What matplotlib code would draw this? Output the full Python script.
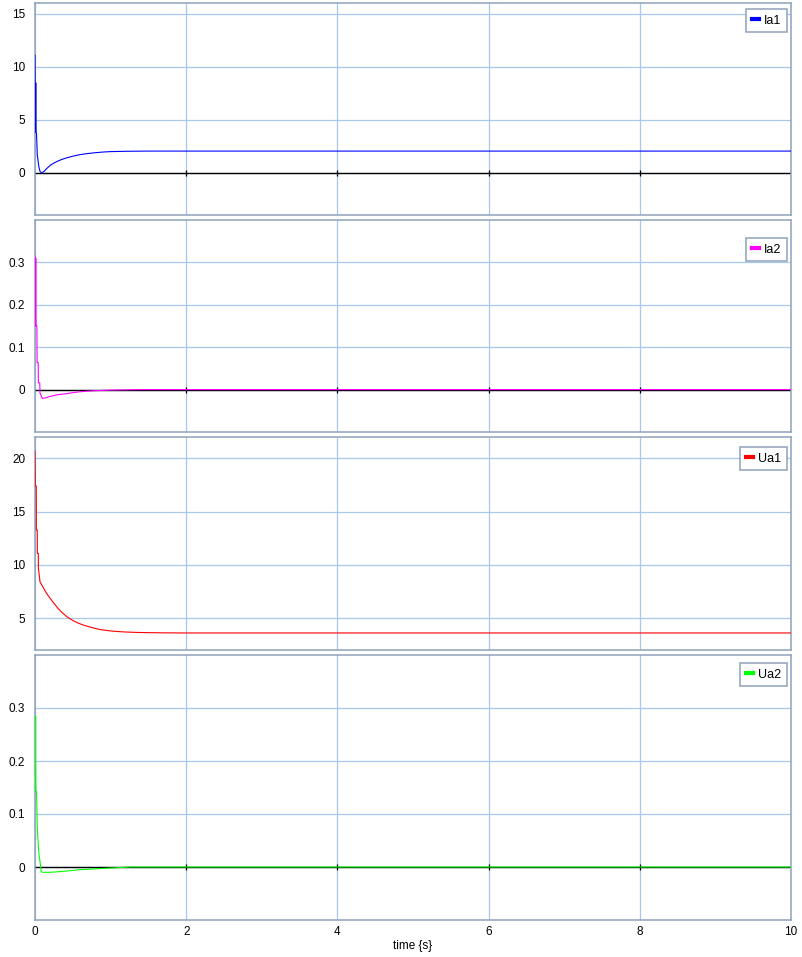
import numpy as np
import matplotlib
matplotlib.use('Agg')
import matplotlib.pyplot as plt
from matplotlib.ticker import FuncFormatter

plt.rcParams['font.family'] = ['Liberation Sans', 'DejaVu Sans']
plt.rcParams['font.size'] = 8.5

# data
t_ia1 = [0, 0.005, 0.01, 0.015, 0.02, 0.03, 0.05, 0.066, 0.088, 0.12, 0.15, 0.2, 0.25, 0.3,
         0.35, 0.4, 0.5, 0.6, 0.7, 0.8, 0.9, 1.0, 1.2, 1.5, 10]
ia1 = [11.06, 3.8, 8.46, 3.78, 3.7, 1.69, 0.6, 0.12, -0.03, 0.12, 0.35, 0.68, 0.9, 1.08,
       1.23, 1.35, 1.55, 1.70, 1.80, 1.88, 1.94, 1.98, 2.01, 2.03, 2.03]

t_ia2 = [0, 0.005, 0.01, 0.015, 0.025, 0.028, 0.042, 0.045, 0.063, 0.066, 0.097, 0.15, 0.2,
         0.3, 0.42, 0.55, 0.66, 0.8, 1.0, 1.2, 1.4, 10]
ia2 = [0.315, 0.15, 0.31, 0.15, 0.15, 0.064, 0.064, 0.016, 0.016, -0.008, -0.021, -0.019,
       -0.016, -0.012, -0.0095, -0.006, -0.004, -0.0025, -0.0012, -0.0005, 0.0, 0.0]

t_ua1 = [0, 0.004, 0.017, 0.018, 0.03, 0.031, 0.044, 0.045, 0.055, 0.066, 0.09, 0.11, 0.15,
         0.2, 0.25, 0.3, 0.35, 0.42, 0.5, 0.57, 0.64, 0.75, 0.86, 1.0, 1.1, 1.2, 1.35, 1.5,
         1.7, 2.0, 10]
ua1 = [20.66, 17.4, 17.4, 13.25, 13.25, 11.07, 11.07, 9.66, 9.1, 8.4, 8.1, 7.85, 7.35,
       6.85, 6.38, 5.95, 5.57, 5.13, 4.77, 4.53, 4.34, 4.11, 3.92, 3.79, 3.73, 3.69, 3.65,
       3.63, 3.61, 3.6, 3.6]

t_ua2 = [0, 0.004, 0.008, 0.012, 0.02, 0.03, 0.049, 0.066, 0.083, 0.1, 0.2, 0.3, 0.46, 0.6,
         0.86, 1.0, 1.26, 10]
ua2 = [0.285, 0.142, 0.285, 0.142, 0.142, 0.076, 0.029, 0.01, -0.009, -0.01, -0.01, -0.009,
       -0.007, -0.005, -0.003, -0.002, 0.0, 0.0]

xticks = [0, 2, 4, 6, 8, 10]

panels = [
    ('Ia1', t_ia1, ia1, '#0000ff', (-4, 16), [0, 5, 10, 15], 3, 215, 6),
    ('Ia2', t_ia2, ia2, '#ff00ff', (-0.1, 0.4), [0, 0.1, 0.2, 0.3], 220, 432, 18),
    ('Ua1', t_ua1, ua1, '#ff0000', (2, 22), [5, 10, 15, 20], 437, 650, 10),
    ('Ua2', t_ua2, ua2, '#00ff00', (-0.1, 0.4), [0, 0.1, 0.2, 0.3], 655, 920, 8),
]

W, H = 802, 957
fig = plt.figure(figsize=(W / 100, H / 100), dpi=100)
frame_col = '#8ea3bb'
grid_col = '#a9c8ee'

for i, (name, t, y, col, ylim, yt, top, bot, loff) in enumerate(panels):
    ax = fig.add_axes([35 / W, 1 - bot / H, 756 / W, (bot - top) / H])
    ax.set_xlim(0, 10)
    ax.set_ylim(*ylim)
    ax.set_xticks(xticks)
    ax.set_yticks(yt)
    ax.yaxis.set_major_formatter(FuncFormatter(lambda v, p: '%g' % round(v, 6)))
    ax.grid(True, color=grid_col, lw=0.9)
    ax.set_axisbelow(True)
    for s in ax.spines.values():
        s.set_color(frame_col)
        s.set_linewidth(1.1)
    ax.tick_params(length=0, pad=7, axis='y')
    ax.tick_params(length=0, pad=4, axis='x')
    # black zero line with small tick marks, as drawn by the simulator
    if ylim[0] < 0 < ylim[1]:
        ax.axhline(0, color='black', lw=1, zorder=2)
        ax.plot(xticks[1:-1], np.zeros(len(xticks) - 2), ls='none', marker='|',
                ms=4.5, mew=0.9, color='black', zorder=2)
    ax.plot(t, y, color=col, lw=0.8, label=name, zorder=3)
    leg = ax.legend(loc='upper right', bbox_to_anchor=(1 - 4 / 756, 1 - loff / (bot - top)),
                    borderaxespad=0, handlelength=0.6, handletextpad=0.4, fancybox=False,
                    framealpha=1, edgecolor=frame_col, borderpad=0.45, fontsize=9)
    leg.get_frame().set_linewidth(1.1)
    for h in leg.get_lines():
        h.set_linewidth(3)
    if i < 3:
        ax.tick_params(labelbottom=False)
    else:
        ax.set_xlabel('time {s}', labelpad=2)

fig.savefig('out.png', dpi=100)
